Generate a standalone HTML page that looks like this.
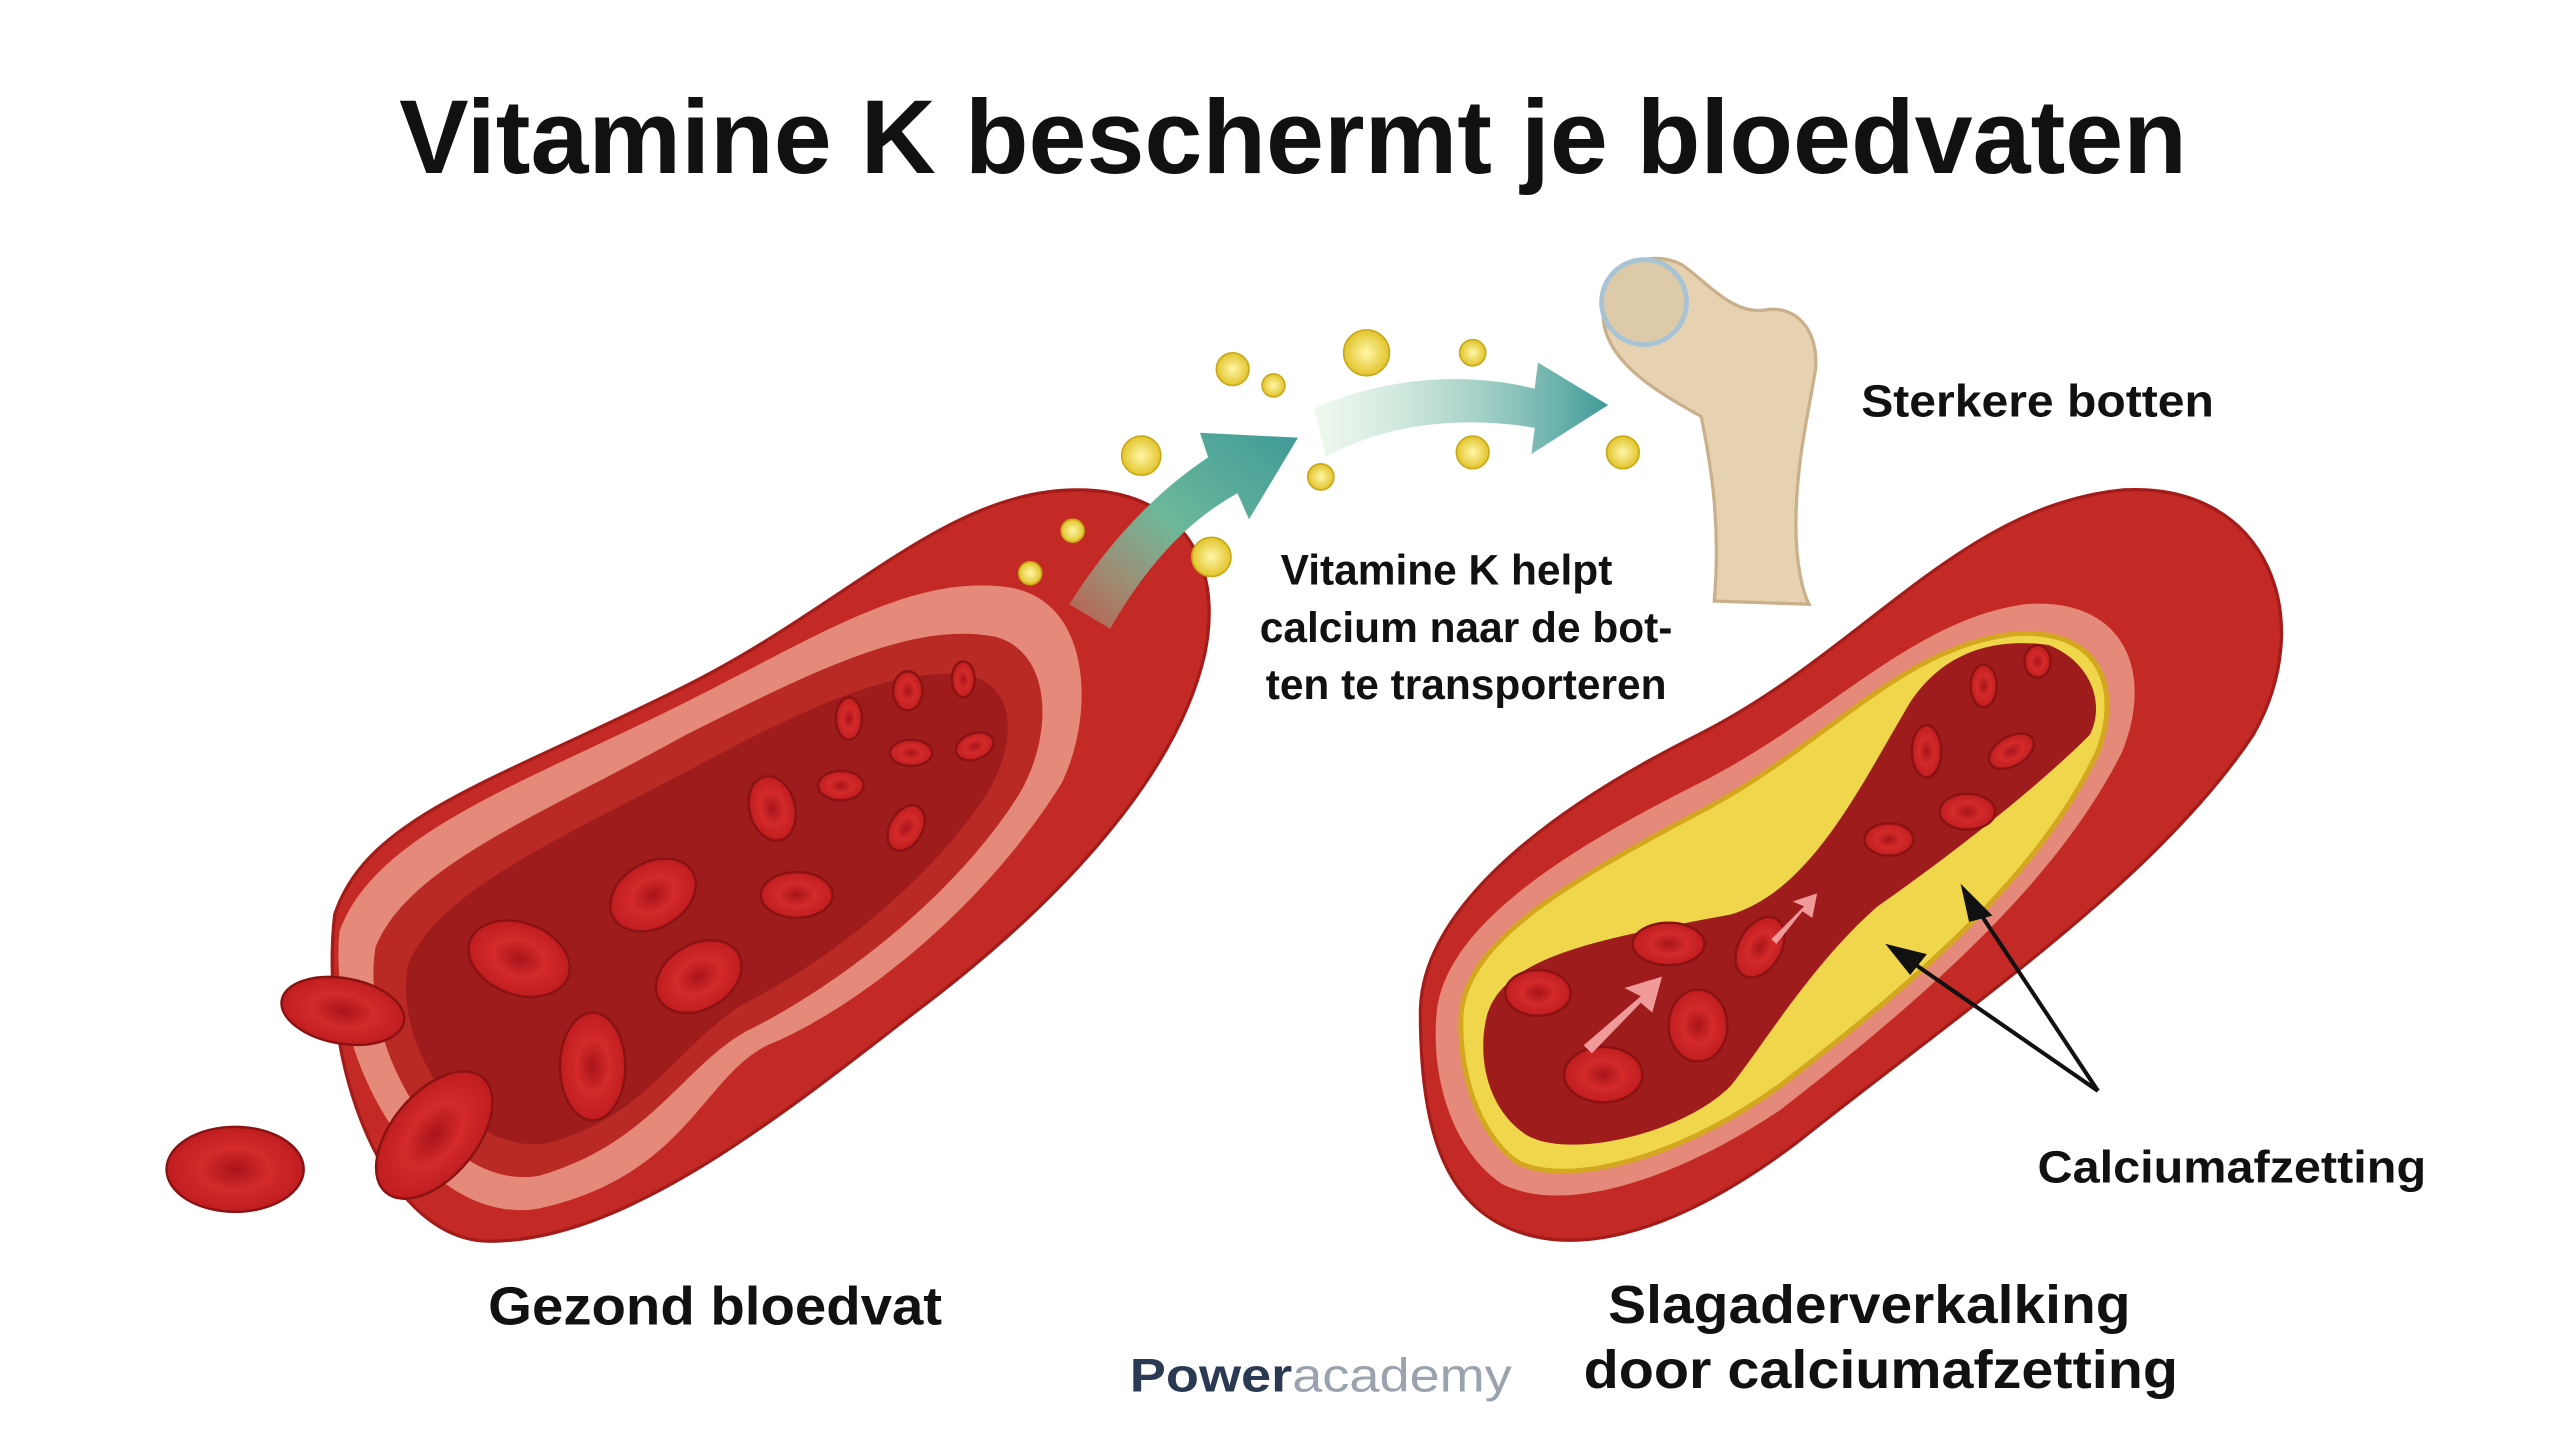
<!DOCTYPE html>
<html><head><meta charset="utf-8"><style>
html,body{margin:0;padding:0;background:#fff;width:2560px;height:1429px;overflow:hidden}
svg{display:block}
text{font-family:"Liberation Sans",sans-serif;font-weight:bold;fill:#111}
</style></head><body>
<svg width="2560" height="1429" viewBox="0 0 1568 875" preserveAspectRatio="none">
<defs>
<linearGradient id="ar" x1="0" y1="1" x2="1" y2="0"><stop offset="0" stop-color="#9fd2a8" stop-opacity="0.3"/><stop offset="0.5" stop-color="#6bb89a"/><stop offset="1" stop-color="#3f9a98"/></linearGradient>
<linearGradient id="ar2" x1="0" y1="0" x2="1" y2="0"><stop offset="0" stop-color="#d8efd5" stop-opacity="0.4"/><stop offset="1" stop-color="#3f9a98"/></linearGradient>
<radialGradient id="dot"><stop offset="0" stop-color="#fff7a8"/><stop offset="1" stop-color="#e2c42c"/></radialGradient>
<radialGradient id="rbc" cx="0.5" cy="0.5" r="0.5"><stop offset="0" stop-color="#a8141a"/><stop offset="0.5" stop-color="#d42a2a"/><stop offset="1" stop-color="#c01d20"/></radialGradient>
</defs>
<text x="792" y="106" font-size="64" text-anchor="middle" textLength="1095" lengthAdjust="spacingAndGlyphs">Vitamine K beschermt je bloedvaten</text>

<!-- left vessel -->
<path d="M205,560 C225,500 300,480 420,420 C520,370 580,300 660,300 C720,300 750,340 738,400 C720,480 640,560 560,620 C470,690 380,760 300,760 C235,760 195,650 205,560Z" fill="#c42a25" stroke="#a31c1a" stroke-width="2"/>
<path d="M208,570 C230,510 320,480 420,430 C500,390 560,350 620,360 C670,370 670,440 650,480 C600,560 520,620 470,640 C430,660 420,720 330,740 C260,752 200,650 208,570Z" fill="#e58a7a"/>
<path d="M230,580 C250,530 330,500 420,450 C500,410 560,380 610,390 C645,400 645,450 625,485 C585,550 510,605 460,630 C420,650 400,700 330,720 C270,730 220,640 230,580Z" fill="#b92a25"/>
<path d="M250,590 C270,545 340,515 425,470 C500,430 555,405 598,415 C625,425 620,460 605,485 C570,540 505,590 455,615 C415,640 395,685 335,700 C285,708 240,640 250,590Z" fill="#9e1d1c"/>
<g fill="url(#rbc)" stroke="#8a1212" stroke-width="1.5">
<ellipse cx="318" cy="587" rx="32" ry="22" transform="rotate(20 318 587)"/>
<ellipse cx="400" cy="548" rx="28" ry="20" transform="rotate(-30 400 548)"/>
<ellipse cx="428" cy="598" rx="28" ry="20" transform="rotate(-30 428 598)"/>
<ellipse cx="363" cy="653" rx="20" ry="33"/>
<ellipse cx="488" cy="548" rx="22" ry="14"/>
<ellipse cx="473" cy="495" rx="14" ry="20" transform="rotate(-15 473 495)"/>
<ellipse cx="515" cy="481" rx="14" ry="9"/>
<ellipse cx="555" cy="507" rx="10" ry="15" transform="rotate(30 555 507)"/>
<ellipse cx="558" cy="461" rx="13" ry="8"/>
<ellipse cx="597" cy="457" rx="12" ry="8" transform="rotate(-20 597 457)"/>
<ellipse cx="520" cy="440" rx="8" ry="13"/>
<ellipse cx="556" cy="423" rx="9" ry="12"/>
<ellipse cx="590" cy="416" rx="7" ry="11"/>
<ellipse cx="210" cy="619" rx="38" ry="20" transform="rotate(10 210 619)"/>
<ellipse cx="266" cy="695" rx="26" ry="46" transform="rotate(40 266 695)"/>
<ellipse cx="144" cy="716" rx="42" ry="26"/>
</g>

<!-- right vessel -->
<path d="M870,620 C870,560 940,500 1040,450 C1140,400 1200,310 1300,300 C1390,295 1420,380 1380,450 C1320,540 1200,620 1100,700 C1020,760 960,770 920,750 C880,730 870,680 870,620Z" fill="#c42a25" stroke="#a31c1a" stroke-width="2"/>
<path d="M880,620 C885,570 950,525 1040,480 C1120,440 1170,380 1240,370 C1300,365 1320,410 1300,460 C1260,540 1180,610 1090,680 C1030,720 960,745 920,725 C890,705 876,660 880,620Z" fill="#e58a7a"/>
<path d="M895,620 C900,575 960,540 1045,495 C1120,455 1165,395 1235,388 C1285,385 1300,420 1285,460 C1250,535 1175,600 1090,665 C1035,705 965,728 930,712 C905,695 893,655 895,620Z" fill="#f0d64a" stroke="#d4a81e" stroke-width="3"/>
<path d="M910,625 C918,585 980,575 1060,560 C1110,545 1140,480 1170,430 C1190,400 1220,390 1255,395 C1280,405 1290,430 1280,450 C1250,480 1200,520 1150,555 C1110,590 1080,640 1060,665 C1030,695 960,710 935,695 C912,680 905,650 910,625Z" fill="#9e1d1c"/>
<g fill="url(#rbc)" stroke="#8a1212" stroke-width="1.5">
<ellipse cx="942" cy="608" rx="20" ry="14"/><ellipse cx="1022" cy="578" rx="22" ry="13"/>
<ellipse cx="1078" cy="580" rx="13" ry="20" transform="rotate(30 1078 580)"/>
<ellipse cx="1040" cy="628" rx="18" ry="22"/><ellipse cx="982" cy="658" rx="24" ry="17"/>
<ellipse cx="1157" cy="514" rx="15" ry="10"/><ellipse cx="1205" cy="497" rx="17" ry="11"/>
<ellipse cx="1180" cy="460" rx="9" ry="16"/><ellipse cx="1232" cy="460" rx="15" ry="9" transform="rotate(-30 1232 460)"/>
<ellipse cx="1215" cy="420" rx="8" ry="13"/><ellipse cx="1248" cy="405" rx="8" ry="10"/>
</g>
<path d="M970,640 L1005,610 L995,605 L1018,598 L1012,620 L1005,614 L975,645Z" fill="#f09a9a"/>
<path d="M1085,575 L1105,555 L1098,552 L1113,547 L1110,562 L1104,558 L1088,578Z" fill="#f09a9a"/>
<g stroke="#111" stroke-width="2.5" fill="#111">
<line x1="1285" y1="668" x2="1165" y2="585"/><line x1="1285" y1="668" x2="1208" y2="552"/>
<path d="M1158,580 L1178,585 L1170,595Z"/><path d="M1203,545 L1218,560 L1207,563Z"/>
</g>

<!-- bone -->
<path d="M1050,368 C1054,320 1048,285 1042,255 C1015,240 980,220 982,190 C985,162 1010,152 1030,162 C1045,172 1060,192 1080,190 C1100,186 1114,202 1112,226 C1108,252 1100,282 1100,322 C1100,345 1104,362 1108,370Z" fill="#e6d2b0" stroke="#c9b08a" stroke-width="2"/>
<circle cx="1007" cy="185" r="26" fill="#ddcaa8" stroke="#a8c4d4" stroke-width="3"/>

<!-- arrows -->
<path d="M655,370 C680,330 710,300 740,280 L735,265 L795,268 L765,318 L758,302 C725,320 700,350 680,385Z" fill="url(#ar)"/>
<path d="M805,250 C850,230 900,228 940,238 L942,222 L985,248 L938,278 L940,262 C900,255 850,258 812,280Z" fill="url(#ar2)"/>
<g fill="url(#dot)" stroke="#c9a818" stroke-width="1">
<circle cx="755" cy="226" r="10"/><circle cx="780" cy="236" r="7"/><circle cx="837" cy="216" r="14"/><circle cx="902" cy="216" r="8"/>
<circle cx="699" cy="279" r="12"/><circle cx="809" cy="292" r="8"/><circle cx="902" cy="277" r="10"/><circle cx="994" cy="277" r="10"/>
<circle cx="657" cy="325" r="7"/><circle cx="631" cy="351" r="7"/><circle cx="742" cy="341" r="12"/>
</g>

<text x="1140" y="255" font-size="28" textLength="216" lengthAdjust="spacingAndGlyphs">Sterkere botten</text>
<text x="886" y="358" font-size="26" text-anchor="middle">Vitamine K helpt</text>
<text x="898" y="393" font-size="26" text-anchor="middle">calcium naar de bot-</text>
<text x="898" y="428" font-size="26" text-anchor="middle">ten te transporteren</text>
<text x="1367" y="724" font-size="28" text-anchor="middle" textLength="238" lengthAdjust="spacingAndGlyphs">Calciumafzetting</text>
<text x="438" y="811" font-size="33" text-anchor="middle" textLength="278" lengthAdjust="spacingAndGlyphs">Gezond bloedvat</text>
<text x="1145" y="810" font-size="33" text-anchor="middle" textLength="320" lengthAdjust="spacingAndGlyphs">Slagaderverkalking</text>
<text x="1152" y="850" font-size="33" text-anchor="middle" textLength="364" lengthAdjust="spacingAndGlyphs">door calciumafzetting</text>
<text x="692" y="852" font-size="29" style="fill:#2a3a52" textLength="234" lengthAdjust="spacingAndGlyphs">Power<tspan style="font-weight:normal;fill:#9aa3ad">academy</tspan></text>
</svg>
</body></html>
